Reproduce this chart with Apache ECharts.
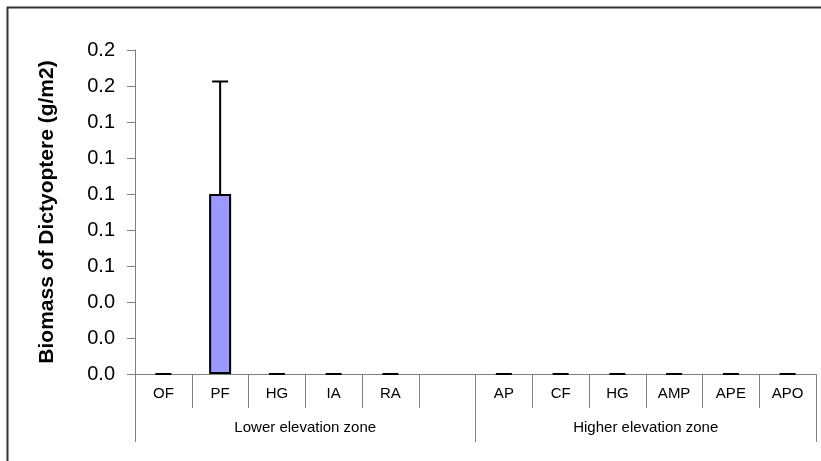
<!DOCTYPE html>
<html>
<head>
<meta charset="utf-8">
<title>Biomass of Dictyoptere</title>
<script src="https://cdn.jsdelivr.net/npm/echarts@6/dist/echarts.min.js"></script>
<style>
  html, body { margin: 0; padding: 0; background: #fff; }
  #chart { width: 821px; height: 461px; }
</style>
</head>
<body>
<div id="chart"></div>
<script>
// Habitat categories along the x axis; the empty slot separates the two zones
const categories = ['OF', 'PF', 'HG', 'IA', 'RA', '', 'AP', 'CF', 'HG', 'AMP', 'APE', 'APO'];
// Elevation zones, each spanning six category slots
const zones = ['Lower elevation zone', 'Higher elevation zone'];
// Mean biomass (g/m2) per habitat; null marks the empty slot
const meanBiomass = [0, 0.1, 0, 0, 0, null, 0, 0, 0, 0, 0, 0];
// Standard error (g/m2) per habitat, drawn as upward error bars
const errBiomass = [0, 0.0625, 0, 0, 0, null, 0, 0, 0, 0, 0, 0];
// Value axis range and step
const yMin = 0, yMax = 0.18, yStep = 0.02;

const FONT = '"Liberation Sans", Arial, Helvetica, sans-serif';
const AXIS_GRAY = '#7f7f7f';

const barData = meanBiomass.map(function (v) {
  if (v === null) return '-';
  // a zero-height bar shows no outline; only its error cap is visible
  return { value: v, itemStyle: { borderWidth: v === 0 ? 0 : 2 } };
});

const errData = [];
meanBiomass.forEach(function (v, i) {
  if (v !== null) errData.push([i, v, errBiomass[i]]);
});

const chart = echarts.init(document.getElementById('chart'));

chart.setOption({
  animation: false,
  backgroundColor: '#fff',
  grid: { left: 135, right: 5, top: 50, bottom: 87, containLabel: false },
  xAxis: [
    {
      type: 'category',
      data: categories,
      position: 'bottom',
      boundaryGap: true,
      axisLine: { show: true, lineStyle: { color: AXIS_GRAY, width: 1 } },
      axisTick: { show: true, interval: 0, alignWithLabel: false, length: 34,
                  lineStyle: { color: AXIS_GRAY, width: 1 } },
      axisLabel: { interval: 0, margin: 12, color: '#000', fontSize: 15, fontFamily: FONT },
      splitLine: { show: false }
    },
    {
      type: 'category',
      data: zones,
      position: 'bottom',
      offset: 0,
      boundaryGap: true,
      axisLine: { show: false },
      axisTick: { show: true, interval: 0, alignWithLabel: false, length: 68,
                  lineStyle: { color: AXIS_GRAY, width: 1 } },
      axisLabel: { interval: 0, margin: 46, color: '#000', fontSize: 15, fontFamily: FONT },
      splitLine: { show: false }
    }
  ],
  yAxis: {
    type: 'value',
    min: yMin,
    max: yMax,
    interval: yStep,
    axisLine: { show: true, lineStyle: { color: AXIS_GRAY, width: 1 } },
    axisTick: { show: true, inside: false, length: 8, lineStyle: { color: AXIS_GRAY, width: 1 } },
    axisLabel: {
      margin: 20,
      color: '#000',
      fontSize: 20,
      fontFamily: FONT,
      formatter: function (v) { return v.toFixed(1); }
    },
    splitLine: { show: false }
  },
  graphic: [
    {
      // outer chart frame
      type: 'rect',
      shape: { x: 7.5, y: 7.5, width: 900, height: 600 },
      style: { fill: 'none', stroke: '#333', lineWidth: 2 },
      silent: true,
      z: 0
    },
    {
      type: 'text',
      x: 47,
      y: 212,
      rotation: Math.PI / 2,
      style: {
        text: 'Biomass of Dictyoptere (g/m2)',
        font: 'bold 21px ' + FONT,
        fill: '#000',
        textAlign: 'center',
        textVerticalAlign: 'middle'
      },
      silent: true
    }
  ],
  series: [
    {
      type: 'bar',
      xAxisIndex: 0,
      data: barData,
      barWidth: 22,
      itemStyle: { color: '#9999ff', borderColor: '#000', borderWidth: 2 },
      z: 2
    },
    {
      type: 'custom',
      xAxisIndex: 0,
      data: errData,
      encode: { x: 0, y: 1 },
      z: 3,
      renderItem: function (params, api) {
        const i = api.value(0);
        const v = api.value(1);
        const e = api.value(2);
        const base = api.coord([i, v]);
        const top = api.coord([i, v + e]);
        const half = 8;
        const children = [
          {
            type: 'line',
            shape: { x1: top[0] - half, y1: top[1], x2: top[0] + half, y2: top[1] },
            style: { stroke: '#000', lineWidth: 2 }
          }
        ];
        if (e > 0) {
          children.push({
            type: 'line',
            shape: { x1: base[0], y1: base[1], x2: top[0], y2: top[1] },
            style: { stroke: '#000', lineWidth: 2 }
          });
        }
        return { type: 'group', children: children };
      }
    }
  ]
});
</script>
</body>
</html>
